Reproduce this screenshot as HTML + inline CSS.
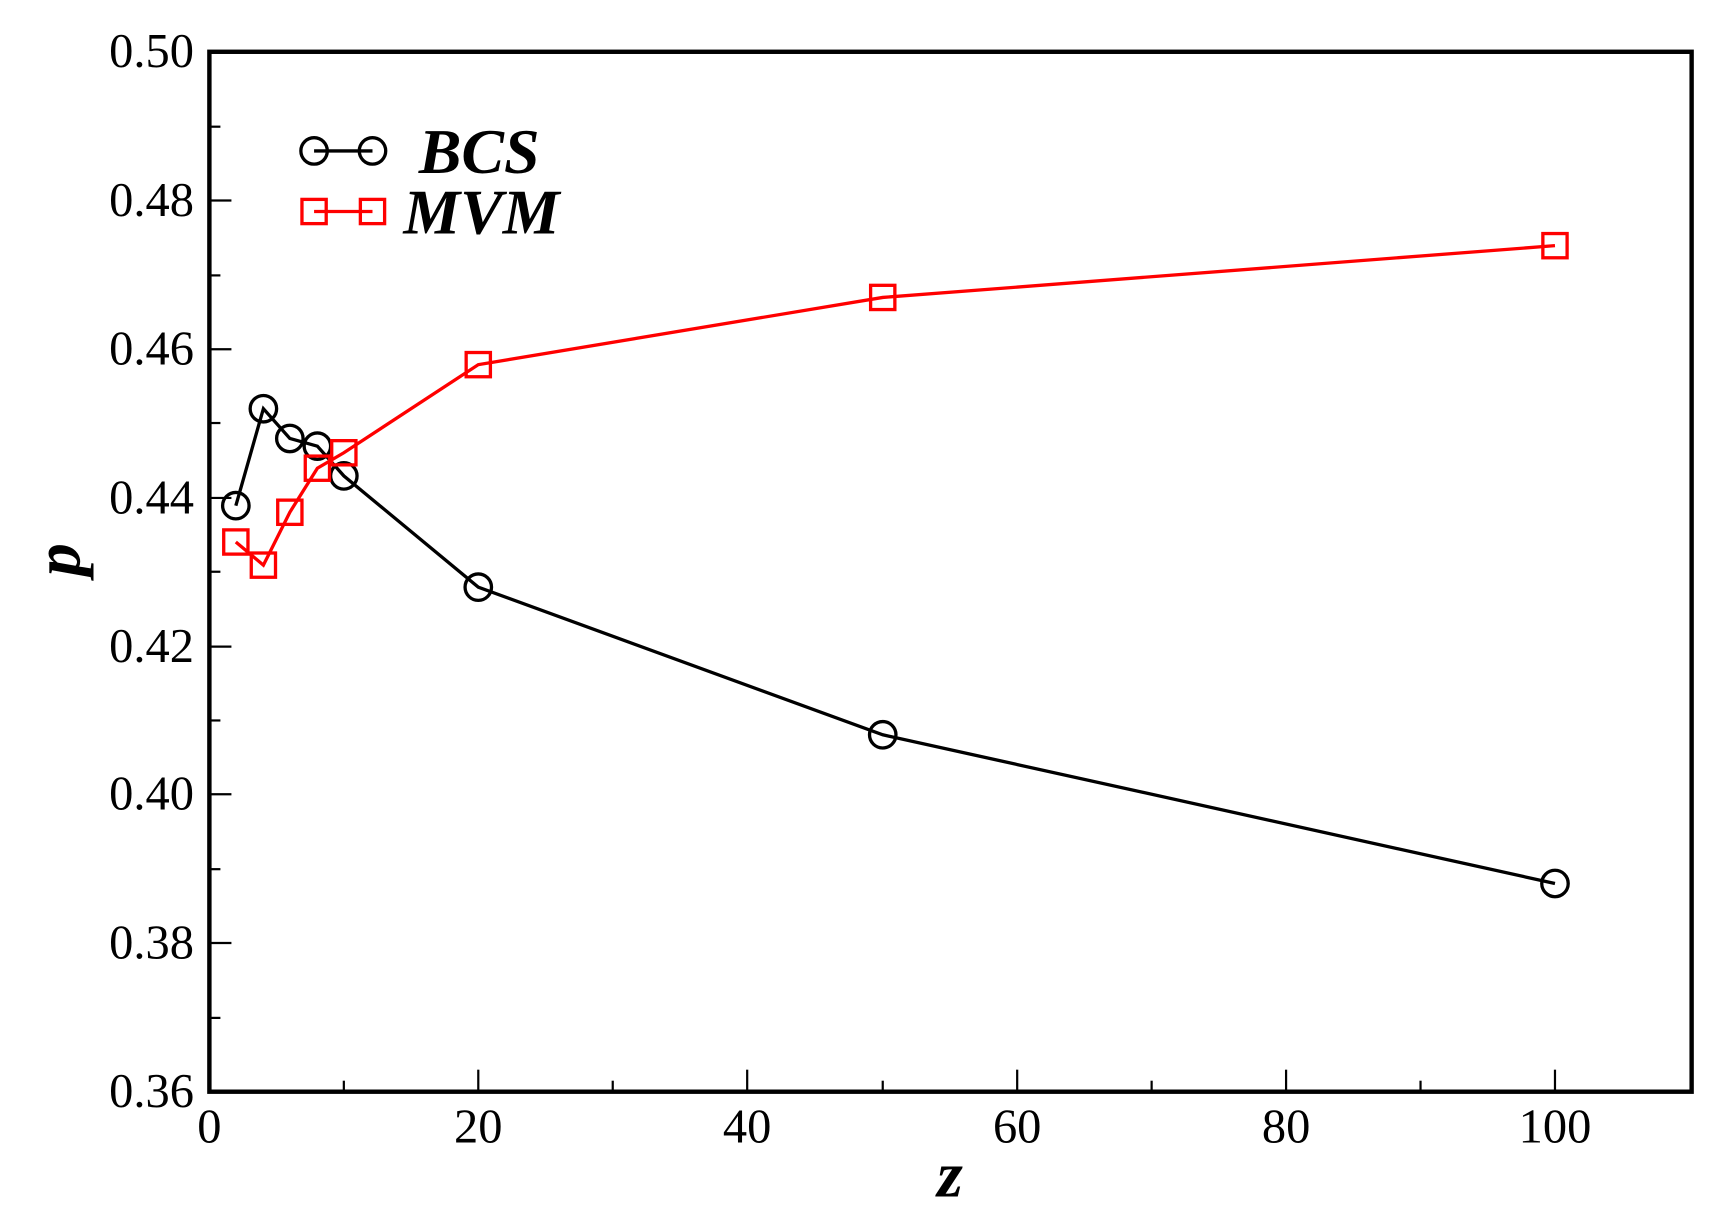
<!DOCTYPE html>
<html><head><style>html,body{margin:0;padding:0;background:#fff;}svg{display:block;}</style></head>
<body>
<svg width="1728" height="1225" viewBox="0 0 1568 1112" preserveAspectRatio="none" xmlns="http://www.w3.org/2000/svg" font-family="Liberation Serif, serif">
<rect width="1568" height="1112" fill="#fff"/>
<g stroke="#000" stroke-width="2">
<line x1="312" y1="991" x2="312" y2="981"/><line x1="434" y1="991" x2="434" y2="971"/>
<line x1="556" y1="991" x2="556" y2="981"/><line x1="678" y1="991" x2="678" y2="971"/>
<line x1="801" y1="991" x2="801" y2="981"/><line x1="923" y1="991" x2="923" y2="971"/>
<line x1="1045" y1="991" x2="1045" y2="981"/><line x1="1167" y1="991" x2="1167" y2="971"/>
<line x1="1289" y1="991" x2="1289" y2="981"/><line x1="1411" y1="991" x2="1411" y2="971"/>
<line x1="190" y1="924" x2="200" y2="924"/><line x1="190" y1="856" x2="210" y2="856"/>
<line x1="190" y1="789" x2="200" y2="789"/><line x1="190" y1="721" x2="210" y2="721"/>
<line x1="190" y1="654" x2="200" y2="654"/><line x1="190" y1="587" x2="210" y2="587"/>
<line x1="190" y1="519" x2="200" y2="519"/><line x1="190" y1="452" x2="210" y2="452"/>
<line x1="190" y1="384" x2="200" y2="384"/><line x1="190" y1="317" x2="210" y2="317"/>
<line x1="190" y1="250" x2="200" y2="250"/><line x1="190" y1="182" x2="210" y2="182"/>
<line x1="190" y1="115" x2="200" y2="115"/>
</g>
<rect x="190" y="47" width="1345" height="944" fill="none" stroke="#000" stroke-width="4"/>
<g font-size="44" text-anchor="middle">
<text x="190" y="1037">0</text><text x="434" y="1037">20</text><text x="678" y="1037">40</text>
<text x="923" y="1037">60</text><text x="1167" y="1037">80</text><text x="1411" y="1037">100</text>
</g>
<g font-size="44" text-anchor="end">
<text x="176" y="1005">0.36</text><text x="176" y="870">0.38</text><text x="176" y="735">0.40</text>
<text x="176" y="601">0.42</text><text x="176" y="466">0.44</text><text x="176" y="331">0.46</text>
<text x="176" y="196">0.48</text><text x="176" y="61">0.50</text>
</g>
<text x="862" y="1086" font-size="60" font-style="italic" font-weight="bold" text-anchor="middle">z</text>
<text transform="translate(72,508) rotate(-90)" font-size="60" font-style="italic" font-weight="bold" text-anchor="middle">p</text>
<g stroke="#000" stroke-width="3" fill="none">
<polyline points="214,459 239,371 263,398 288,405 312,432 434,533 801,667 1411,802"/>
<circle cx="214" cy="459" r="12"/><circle cx="239" cy="371" r="12"/><circle cx="263" cy="398" r="12"/>
<circle cx="288" cy="405" r="12"/><circle cx="312" cy="432" r="12"/><circle cx="434" cy="533" r="12"/>
<circle cx="801" cy="667" r="12"/><circle cx="1411" cy="802" r="12"/>
<line x1="285" y1="137" x2="338" y2="137"/><circle cx="285" cy="137" r="12"/><circle cx="338" cy="137" r="12"/>
</g>
<g stroke="#f00" stroke-width="3" fill="none">
<polyline points="214,492 239,513 263,465 288,425 312,411 434,331 801,270 1411,223"/>
<rect x="203" y="481" width="22" height="22"/><rect x="228" y="502" width="22" height="22"/>
<rect x="252" y="454" width="22" height="22"/><rect x="277" y="414" width="22" height="22"/>
<rect x="301" y="400" width="22" height="22"/><rect x="423" y="320" width="22" height="22"/>
<rect x="790" y="259" width="22" height="22"/><rect x="1400" y="212" width="22" height="22"/>
<line x1="285" y1="192" x2="338" y2="192"/><rect x="274" y="181" width="22" height="22"/><rect x="327" y="181" width="22" height="22"/>
</g>
<g font-size="58" font-style="italic" font-weight="bold">
<text x="380" y="157">BCS</text><text x="366" y="212">MVM</text>
</g>
</svg>
</body></html>
